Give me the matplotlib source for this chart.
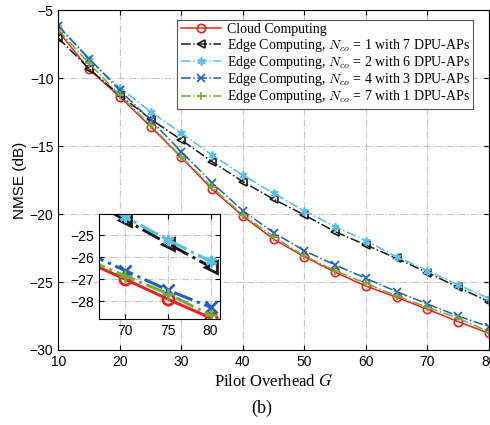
import matplotlib.pyplot as plt

plt.rcParams['mathtext.fontset'] = 'cm'

G = [10, 15, 20, 25, 30, 35, 40, 45, 50, 55, 60, 65, 70, 75, 80]

cloud = [-6.54, -9.35, -11.37, -13.56, -15.82, -18.17, -20.14, -21.85, -23.13, -24.28, -25.29, -26.12, -27.0, -27.91, -28.77]
edge_1 = [-7.04, -9.3, -11.25, -13.0, -14.54, -16.14, -17.61, -18.9, -20.06, -21.29, -22.27, -23.25, -24.3, -25.38, -26.44]
edge_2 = [-6.2, -8.63, -10.7, -12.46, -14.05, -15.65, -17.12, -18.47, -19.75, -20.92, -21.95, -23.13, -24.16, -25.21, -26.19]
edge_4 = [-6.15, -8.55, -10.9, -13.07, -15.4, -17.69, -19.75, -21.36, -22.69, -23.74, -24.72, -25.7, -26.61, -27.5, -28.28]
edge_7 = [-6.45, -8.9, -11.25, -13.45, -15.77, -18.02, -20.06, -21.66, -23.08, -24.16, -25.09, -26.02, -26.85, -27.66, -28.65]

labels = ['Cloud Computing',
          r'Edge Computing, $N_{co}$ = 1 with 7 DPU-APs',
          r'Edge Computing, $N_{co}$ = 2 with 6 DPU-APs',
          r'Edge Computing, $N_{co}$ = 4 with 3 DPU-APs',
          r'Edge Computing, $N_{co}$ = 7 with 1 DPU-APs']

series = [cloud, edge_1, edge_2, edge_4, edge_7]
styles = [dict(color='#EE2020', ls='-', marker='o', mfc='none'),
          dict(color='#1a1a1a', ls='-.', marker='<', mfc='none'),
          dict(color='#55C0E8', ls='-.', marker=(6, 2, 0)),
          dict(color='#1F5FBF', ls='-.', marker='x'),
          dict(color='#77AC30', ls='-.', marker='+')]

fig = plt.figure(figsize=(4.9, 4.25), dpi=100)
ax = fig.add_axes([0.119, 0.1765, 0.8785, 0.7993])

for y, lab, st in zip(series, labels, styles):
    ax.plot(G, y, label=lab, lw=1.1, ms=6, mew=1.2, **st)

ax.set_xlim(10, 80)
ax.set_ylim(-30, -5)
ax.set_xticks(range(10, 81, 10))
ax.set_yticks(range(-30, -4, 5))
ax.grid(True, ls='-.', color='#c8c8c8', lw=0.8)
ax.tick_params(direction='in', top=True, right=True, labelsize=10)
for lbl in ax.get_xticklabels() + ax.get_yticklabels():
    lbl.set_family('Liberation Sans')
ax.set_ylabel('NMSE (dB)', fontsize=11, family='Liberation Sans', labelpad=2)
ax.set_xlabel(r'Pilot Overhead $G$', fontsize=12, family='Liberation Serif', labelpad=3)

leg = ax.legend(loc='upper right', bbox_to_anchor=(0.97, 0.98), fancybox=False,
                edgecolor='#555555', framealpha=1, handlelength=2.9, labelspacing=0.02,
                borderpad=0.25, handletextpad=0.4, borderaxespad=0.2,
                prop={'family': 'Liberation Serif', 'size': 10})
leg.get_frame().set_linewidth(0.8)

fig.text(0.535, 0.04, '(b)', ha='center', va='center', fontsize=13, family='Liberation Serif')

# zoomed inset
axin = fig.add_axes([0.2027, 0.2487, 0.2463, 0.247])
for y, st in zip(series, styles):
    axin.plot(G, y, lw=2.2, ms=8, mew=2, **st)
axin.set_xlim(67, 81.1)
axin.set_ylim(-28.83, -24.05)
axin.set_xticks([70, 75, 80])
axin.set_yticks([-28, -27, -26, -25])
axin.grid(True, ls='-.', color='#c8c8c8', lw=0.8)
axin.tick_params(direction='in', top=True, right=True, labelsize=10)
for lbl in axin.get_xticklabels() + axin.get_yticklabels():
    lbl.set_family('Liberation Sans')

fig.savefig('out.png', dpi=100)
